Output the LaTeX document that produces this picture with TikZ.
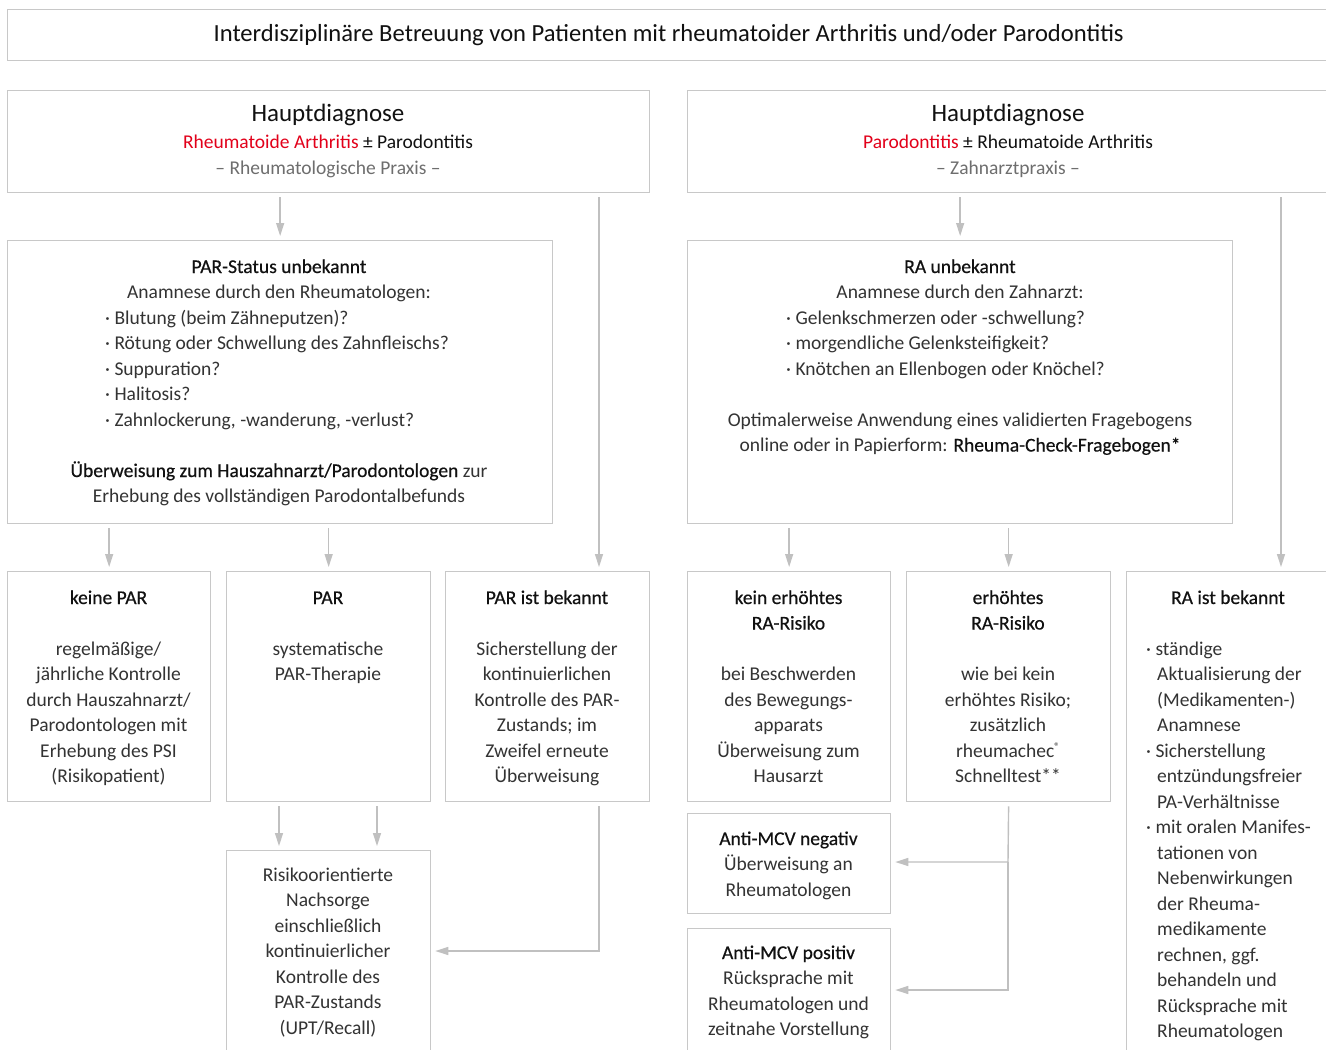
\documentclass[tikz,border=0pt]{standalone}
\usepackage{fontspec}
\setmainfont{Carlito}
\newfontfamily\medfont{Carlito}[FakeBold=0.5]
\usetikzlibrary{arrows.meta}
\definecolor{boxc}{HTML}{C8C8C8}
\definecolor{arrc}{HTML}{C0C0C0}
\definecolor{redc}{HTML}{E2001A}
\definecolor{subc}{HTML}{6E6E6E}
\definecolor{txtc}{HTML}{333333}
\definecolor{headc}{HTML}{111111}
\begin{document}
\begin{tikzpicture}[x=1pt,y=-1pt,
  box/.style={draw=boxc,line width=1.3pt,inner sep=0pt,anchor=north west,rectangle},
  txt/.style={inner sep=0pt,anchor=base,align=center,text=txtc,font=\fontsize{19.5}{25.5}\selectfont},
  hd/.style={txt,text=headc,font=\fontsize{19.5}{25.5}\selectfont\medfont},
  plainhd/.style={txt,text=headc},
  lft/.style={txt,align=left,anchor=base west},
  arr/.style={draw=arrc,line width=1.4pt,-{Triangle[width=8pt,length=13pt]},shorten <=4pt,shorten >=4pt}]
\useasboundingbox (0,0) rectangle (1326,1050);
\clip (0,0) rectangle (1326,1050);
\fill[white] (0,0) rectangle (1326,1050);

% title
\node[box,minimum width=1322pt,minimum height=51pt,text=headc,font=\fontsize{24.6}{30}\selectfont] (title) at (7,9)
  {Interdisziplinäre Betreuung von Patienten mit rheumatoider Arthritis und/oder Parodontitis};

% header boxes
\node[box,minimum width=642pt,minimum height=102pt] (hl) at (7,90) {};
\node[box,minimum width=642pt,minimum height=102pt] (hr) at (687,90) {};
\node[plainhd,font=\fontsize{25}{30}\selectfont] (hlA) at (328,121) {Hauptdiagnose};
\node[plainhd] (hlB) at (328,148) {{\color{redc}Rheumatoide Arthritis} ± Parodontitis};
\node[txt,text=subc] (hlC) at (328,174) {– Rheumatologische Praxis –};
\node[plainhd,font=\fontsize{25}{30}\selectfont] (hrA) at (1008,121) {Hauptdiagnose};
\node[plainhd] (hrB) at (1008,148) {{\color{redc}Parodontitis} ± Rheumatoide Arthritis};
\node[txt,text=subc] (hrC) at (1008,174) {– Zahnarztpraxis –};

% second row
\node[box,minimum width=545pt,minimum height=283pt] (pst) at (7,240) {};
\node[box,minimum width=545pt,minimum height=283pt] (rau) at (687,240) {};

\node[hd] (pstA) at (279,273) {PAR-Status unbekannt};
\node[txt] (pstB) at (279,298.5) {Anamnese durch den Rheumatologen:};
\node[lft] (pstC) at (105,426) {· Blutung (beim Zähneputzen)?\\
· Rötung oder Schwellung des Zahnfleischs?\\
· Suppuration?\\
· Halitosis?\\
· Zahnlockerung, -wanderung, -verlust?};
\node[txt] (pstD) at (279,502.5) {{\color{headc}\medfont Überweisung zum Hauszahnarzt/Parodontologen} zur\\
Erhebung des vollständigen Parodontalbefunds};

\node[hd] (rauA) at (960,273) {RA unbekannt};
\node[txt] (rauB) at (960,298.5) {Anamnese durch den Zahnarzt:};
\node[lft] (rauC) at (786,375) {· Gelenkschmerzen oder -schwellung?\\
· morgendliche Gelenksteifigkeit?\\
· Knötchen an Ellenbogen oder Knöchel?};
\node[txt] (rauD) at (960,451.5) {Optimalerweise Anwendung eines validierten Fragebogens\\
online oder in Papierform: {\color{headc}\medfont Rheuma-Check-Fragebogen*}};

% third row
\node[box,minimum width=203pt,minimum height=230pt] (kp) at (7,571) {};
\node[box,minimum width=204pt,minimum height=230pt] (par) at (226,571) {};
\node[box,minimum width=204pt,minimum height=230pt] (pib) at (445,571) {};
\node[box,minimum width=203pt,minimum height=230pt] (ker) at (687,571) {};
\node[box,minimum width=204pt,minimum height=230pt] (erh) at (906,571) {};
\node[box,minimum width=210pt,minimum height=520pt] (rab) at (1126,571) {};

\node[hd] (kpA) at (108.5,604) {keine PAR};
\node[txt] (kpB) at (108.5,782.5) {regelmäßige/\\jährliche Kontrolle\\durch Hauszahnarzt/\\Parodontologen mit\\Erhebung des PSI\\(Risikopatient)};
\node[hd] (parA) at (328,604) {PAR};
\node[txt] (parB) at (328,680.5) {systematische\\PAR-Therapie};
\node[hd] (pibA) at (547,604) {PAR ist bekannt};
\node[txt] (pibB) at (547,782.5) {Sicherstellung der\\kontinuierlichen\\Kontrolle des PAR-\\Zustands; im\\Zweifel erneute\\Überweisung};
\node[hd] (kerA) at (788.5,629.5) {kein erhöhtes\\RA-Risiko};
\node[txt] (kerB) at (788.5,782.5) {bei Beschwerden\\des Bewegungs-\\apparats\\Überweisung zum\\Hausarzt};
\node[hd] (erhA) at (1008,629.5) {erhöhtes\\RA-Risiko};
\node[txt] (erhB) at (1008,782.5) {wie bei kein\\erhöhtes Risiko;\\zusätzlich\\rheumachec\raisebox{7pt}{\fontsize{11}{11}\selectfont ®}\\Schnelltest**};
\node[hd] (rabA) at (1228,604) {RA ist bekannt};
\node[lft] (rabB) at (1146,1037.5) {· ständige\\
\hspace*{11pt}Aktualisierung der\\
\hspace*{11pt}(Medikamenten-)\\
\hspace*{11pt}Anamnese\\
· Sicherstellung\\
\hspace*{11pt}entzündungsfreier\\
\hspace*{11pt}PA-Verhältnisse\\
· mit oralen Manifes-\\
\hspace*{11pt}tationen von\\
\hspace*{11pt}Nebenwirkungen\\
\hspace*{11pt}der Rheuma-\\
\hspace*{11pt}medikamente\\
\hspace*{11pt}rechnen, ggf.\\
\hspace*{11pt}behandeln und\\
\hspace*{11pt}Rücksprache mit\\
\hspace*{11pt}Rheumatologen};

% fourth row
\node[box,minimum width=204pt,minimum height=240pt] (risk) at (226,850) {};
\node[txt] (riskA) at (328,1034) {Risikoorientierte\\Nachsorge\\einschließlich\\kontinuierlicher\\Kontrolle des\\PAR-Zustands\\(UPT/Recall)};
\node[box,minimum width=203pt,minimum height=100pt] (neg) at (687,813) {};
\node[hd] (negA) at (788.5,845) {Anti-MCV negativ};
\node[txt] (negB) at (788.5,896) {Überweisung an\\Rheumatologen};
\node[box,minimum width=203pt,minimum height=160pt] (pos) at (687,928) {};
\node[hd] (posA) at (788.5,959) {Anti-MCV positiv};
\node[txt] (posB) at (788.5,1035.5) {Rücksprache mit\\Rheumatologen und\\zeitnahe Vorstellung};

% helper coordinates
\coordinate (c599) at (599,0);
\coordinate (c1281) at (1281,0);
\coordinate (c279) at (279,0);
\coordinate (c377) at (377,0);
\coordinate (j1) at (599,951);
\coordinate (j2) at (1008,862);
\coordinate (j3) at (1008,990);

% connectors left
\draw[arr] (hl.south -| pst.north) -- (pst.north);
\draw[arr] (hl.south -| c599) -- (pib.north -| c599);
\draw[arr] (pst.south -| kp.north) -- (kp.north);
\draw[arr] (pst.south -| par.north) -- (par.north);
\draw[arr] (par.south -| c279) -- (risk.north -| c279);
\draw[arr] (par.south -| c377) -- (risk.north -| c377);
\draw[arr] (pib.south -| j1) -- (j1) -- (risk.east |- j1);

% connectors right
\draw[arr] (hr.south -| rau.north) -- (rau.north);
\draw[arr] (hr.south -| c1281) -- (rab.north -| c1281);
\draw[arr] (rau.south -| ker.north) -- (ker.north);
\draw[arr] (rau.south -| erh.north) -- (erh.north);
\draw[arr] (erh.south) -- (j2) -- (neg.east |- j2);
\draw[arr,shorten <=0pt] (j2) -- (j3) -- (pos.east |- j3);
\end{tikzpicture}
\end{document}
